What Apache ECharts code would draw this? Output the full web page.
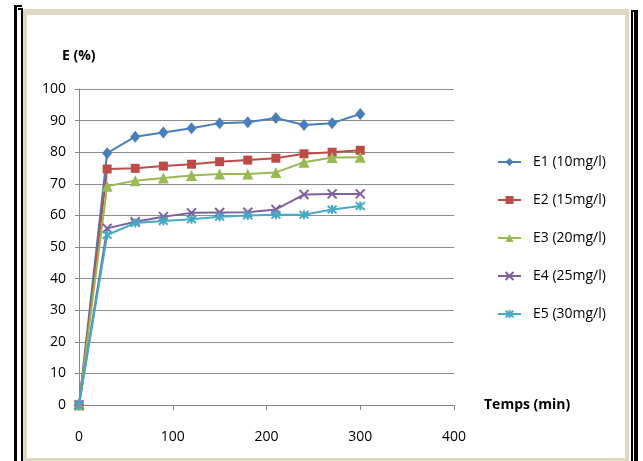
<!DOCTYPE html>
<html>
<head>
<meta charset="utf-8">
<style>
  html, body { margin: 0; padding: 0; background: #ffffff; }
  #chart { width: 643px; height: 461px; }
</style>
<script src="https://cdn.jsdelivr.net/npm/echarts@6/dist/echarts.min.js"></script>
</head>
<body>
<div id="chart"></div>
<script>
// Sampling times (min)
const times = [0, 30, 60, 90, 120, 150, 180, 210, 240, 270, 300];

// Removal efficiency E (%) for each initial concentration
const e1 = [0, 79.7, 84.9, 86.2, 87.6, 89.2, 89.5, 90.8, 88.6, 89.2, 92.1];
const e2 = [0, 74.7, 74.9, 75.6, 76.2, 77.0, 77.5, 78.1, 79.5, 80.0, 80.6];
const e3 = [0, 69.2, 71.0, 71.8, 72.6, 73.1, 73.1, 73.6, 76.8, 78.3, 78.4];
const e4 = [0, 55.9, 58.0, 59.6, 60.8, 60.9, 61.0, 61.9, 66.6, 66.8, 66.8];
const e5 = [0, 53.8, 57.6, 58.2, 58.8, 59.6, 60.0, 60.2, 60.2, 61.9, 63.0];

const seriesNames = ['E1 (10mg/l)', 'E2 (15mg/l)', 'E3 (20mg/l)', 'E4 (25mg/l)', 'E5 (30mg/l)'];
const seriesColors = ['#4a7ebb', '#be4b48', '#98b954', '#7d60a0', '#46aac5'];

const yTicks = [0, 10, 20, 30, 40, 50, 60, 70, 80, 90, 100];
const xTicks = [0, 100, 200, 300, 400];

const FONT = '"Open Sans", sans-serif';

function pairs(vals) {
  return times.map((t, i) => [t, vals[i]]);
}

const crossPath = 'path://M0,0L10,10M10,0L0,10';
const starPath = 'path://M0,0L10,10M10,0L0,10M5,-1L5,11';

const markerDefs = [
  { symbol: 'diamond', size: [10, 12], stroke: false },
  { symbol: 'rect', size: 9, stroke: false },
  { symbol: 'triangle', size: 11, stroke: false },
  { symbol: crossPath, size: 9, stroke: true },
  { symbol: starPath, size: 9, stroke: true }
];

const allValues = [e1, e2, e3, e4, e5];

const series = allValues.map((vals, i) => {
  const c = seriesColors[i];
  const m = markerDefs[i];
  return {
    name: seriesNames[i],
    type: 'line',
    data: pairs(vals),
    symbol: m.symbol,
    symbolSize: m.size,
    showAllSymbol: true,
    lineStyle: { color: c, width: 2 },
    itemStyle: m.stroke
      ? { color: 'rgba(0,0,0,0)', borderColor: c, borderWidth: 2 }
      : { color: c, borderColor: c, borderWidth: 0 },
    emphasis: { disabled: true },
    animation: false,
    z: 2 + i
  };
});

// Beige and black frame around the chart area
const beige = '#ddd9c3';
const frame = [
  { type: 'rect', shape: { x: 23, y: 9, width: 606, height: 6 }, style: { fill: beige } },
  { type: 'rect', shape: { x: 23, y: 9, width: 4, height: 452 }, style: { fill: beige } },
  { type: 'rect', shape: { x: 625, y: 9, width: 4, height: 452 }, style: { fill: beige } },
  { type: 'rect', shape: { x: 23, y: 458, width: 606, height: 3 }, style: { fill: beige } },
  { type: 'rect', shape: { x: 14, y: 5, width: 3, height: 456 }, style: { fill: '#000' } },
  { type: 'rect', shape: { x: 14, y: 5, width: 8, height: 2 }, style: { fill: '#000' } },
  { type: 'rect', shape: { x: 21, y: 9, width: 2, height: 452 }, style: { fill: '#000' } },
  { type: 'rect', shape: { x: 18, y: 8, width: 5, height: 2 }, style: { fill: '#000' } },
  { type: 'rect', shape: { x: 631, y: 10, width: 2, height: 451 }, style: { fill: '#000' } },
  { type: 'rect', shape: { x: 634, y: 10, width: 4, height: 451 }, style: { fill: '#000' } },
  { type: 'rect', shape: { x: 631, y: 10, width: 7, height: 2 }, style: { fill: '#000' } },
  {
    type: 'text', left: 62, top: 49,
    style: { text: 'E (%)', font: 'bold 14px ' + FONT, fill: '#000' }
  },
  {
    type: 'text', left: 484, top: 398,
    style: { text: 'Temps (min)', font: 'bold 14px ' + FONT, fill: '#000' }
  }
];

const chart = echarts.init(document.getElementById('chart'), null, { renderer: 'canvas' });
chart.setOption({
  animation: false,
  backgroundColor: '#ffffff',
  grid: { left: 79, top: 89, width: 375, height: 316, containLabel: false },
  xAxis: {
    type: 'value',
    min: xTicks[0],
    max: xTicks[xTicks.length - 1],
    interval: 100,
    axisLine: { show: true, lineStyle: { color: '#868686', width: 1 } },
    axisTick: { show: true, length: 5, lineStyle: { color: '#868686' } },
    splitLine: { show: false },
    axisLabel: { color: '#000', fontFamily: FONT, fontSize: 14, margin: 25 }
  },
  yAxis: {
    type: 'value',
    min: yTicks[0],
    max: yTicks[yTicks.length - 1],
    interval: 10,
    axisLine: { show: true, lineStyle: { color: '#868686', width: 1 } },
    axisTick: { show: true, length: 4, lineStyle: { color: '#868686' } },
    splitLine: { show: true, lineStyle: { color: '#8c8c8c', width: 1 } },
    axisLabel: { color: '#000', fontFamily: FONT, fontSize: 14, margin: 13 }
  },
  legend: {
    orient: 'vertical',
    left: 497,
    top: 155,
    padding: 0,
    itemWidth: 23,
    itemHeight: 10,
    itemGap: 24,
    textStyle: { color: '#000', fontFamily: FONT, fontSize: 14, padding: [0, 0, 0, 7] },
    data: seriesNames
  },
  graphic: frame,
  series: series
});
</script>
</body>
</html>
